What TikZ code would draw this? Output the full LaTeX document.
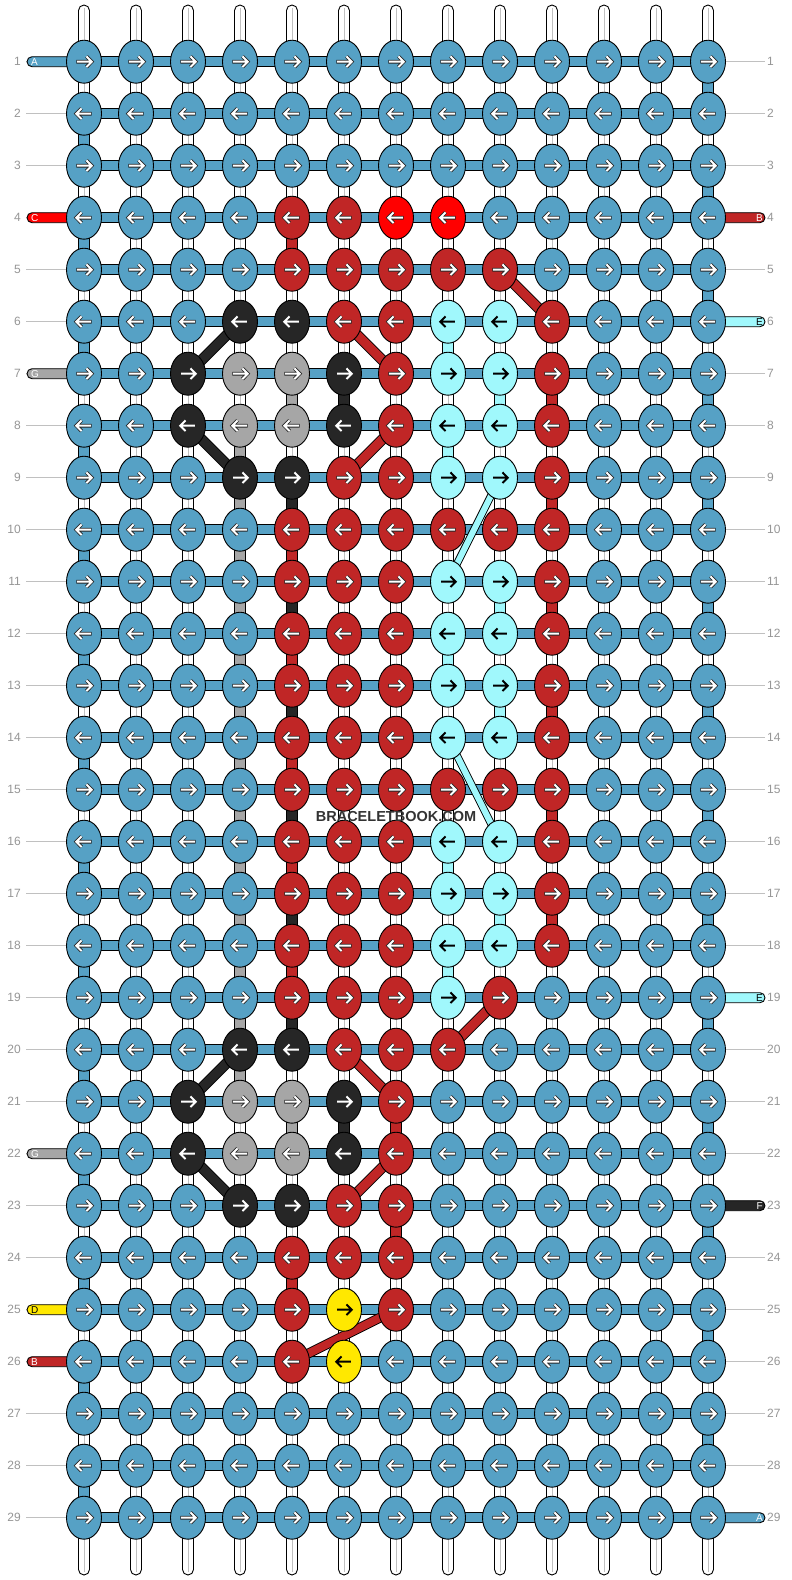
\documentclass[tikz,border=0pt]{standalone}
\usepackage{fontspec}
\setmainfont{Liberation Sans}
\usetikzlibrary{shapes.geometric}
\definecolor{kb}{RGB}{86,161,197}
\definecolor{kR}{RGB}{192,38,38}
\definecolor{kr}{RGB}{255,0,0}
\definecolor{kk}{RGB}{38,38,38}
\definecolor{kg}{RGB}{166,166,166}
\definecolor{kc}{RGB}{160,248,252}
\definecolor{ky}{RGB}{255,232,0}
% arrow and tab letter colours per thread
\colorlet{ab}{white}\colorlet{aR}{white}\colorlet{ar}{white}\colorlet{ak}{white}
\colorlet{ag}{white}\colorlet{ac}{black}\colorlet{ay}{black}
% arrow outline colours per thread
\colorlet{ob}{black!85}\colorlet{oR}{black!85}\colorlet{or}{black!85}\colorlet{ok}{black!85}
\colorlet{og}{black!85}\colorlet{oc}{kc}\colorlet{oy}{ky}
\definecolor{numgray}{RGB}{150,150,150}
\definecolor{rulegray}{RGB}{192,192,192}
\definecolor{markgray}{RGB}{51,51,51}
\tikzset{
  knot/.style={ellipse, draw=black, line width=0.9pt, minimum width=35pt,
    minimum height=43pt, inner sep=0pt},
  warp/.style={draw=black, fill=white, line width=0.9pt, rounded corners=5.5pt},
  band/.style={draw=black, line width=0.9pt},
  tab/.style={draw=black, line width=0.9pt, rounded corners=5pt},
  rownum/.style={text=numgray, font=\fontsize{12}{12}\selectfont, inner sep=0pt},
  tabtext/.style={font=\fontsize{10}{10}\selectfont, inner sep=0pt},
}

\begin{document}
\begin{tikzpicture}[x=1pt, y=-1pt]
\useasboundingbox (0,0) rectangle (792,1580);
\fill[white] (0,0) rectangle (792,1580);

% grid points
\foreach \r in {1,...,29}
  \foreach \c in {1,...,13}
    \coordinate (p\r-\c) at ({84+52*(\c-1)},{61.7+52*(\r-1)});

% warp strings
\foreach \c in {1,...,13}{
  \coordinate (top\c) at ({84+52*(\c-1)},5);
  \coordinate (bot\c) at ({84+52*(\c-1)},1575);
  \draw[warp] ([xshift=-5.5pt]top\c) rectangle ([xshift=5.5pt]bot\c);
  \draw[rulegray, line width=1pt] ([yshift=-3pt]top\c) -- ([yshift=3pt]bot\c);
}

% row numbers
\foreach \r in {1,...,29}{
  \draw[rulegray, line width=0.8pt] ([xshift=-58pt]p\r-1) -- (p\r-1);
  \draw[rulegray, line width=0.8pt] (p\r-13) -- ([xshift=57pt]p\r-13);
  \node[rownum, anchor=east] (ln\r) at ([xshift=-63pt]p\r-1) {\r};
  \node[rownum, anchor=west] (rn\r) at ([xshift=59pt]p\r-13) {\r};
}

% weft rows and turns
\foreach \r in {1,...,29}
  \draw[band, fill=kb] ([yshift=5.2pt]p\r-1) rectangle ([yshift=-5.2pt]p\r-13);
\foreach \r [evaluate=\r as \rr using int(\r+1)] in {2,4,...,28}
  \draw[band, fill=kb] ([xshift=-5.5pt]p\r-1) rectangle ([xshift=5.5pt]p\rr-1);
\foreach \r [evaluate=\r as \rr using int(\r+1)] in {1,3,...,27}
  \draw[band, fill=kb] ([xshift=-5.5pt]p\r-13) rectangle ([xshift=5.5pt]p\rr-13);

% carried threads
\foreach \c/\r/\k in {5/4/R, 5/10/R, 5/12/R, 5/14/R, 5/16/R, 5/18/R, 5/24/R,
    10/7/R, 10/9/R, 10/11/R, 10/13/R, 10/15/R, 10/17/R, 7/21/R, 7/23/R,
    5/9/k, 5/11/k, 5/13/k, 5/15/k, 5/17/k, 5/19/k, 6/7/k, 6/21/k,
    5/7/g, 5/21/g, 8/6/c, 8/8/c, 8/12/c, 8/16/c, 8/18/c,
    9/7/c, 9/11/c, 9/13/c, 9/17/c}{
  \pgfmathtruncatemacro\rr{\r+1}
  \draw[band, fill=k\k] ([xshift=-5.5pt]p\r-\c) rectangle ([xshift=5.5pt]p\rr-\c);
}
\foreach \r [evaluate=\r as \rr using int(\r+1)] in {8,...,20}
  \draw[band, fill=kg] ([xshift=-5.5pt]p\r-4) rectangle ([xshift=5.5pt]p\rr-4);

% diagonal jumps
\foreach \ra/\ca/\rb/\cb/\k/\w in {5/9/6/10/R/9, 6/4/7/3/k/9, 6/6/7/7/R/9,
    8/3/9/4/k/9, 8/7/9/6/R/9, 9/9/11/8/c/6, 14/8/16/9/c/6, 19/9/20/8/R/9,
    20/4/21/3/k/9, 20/6/21/7/R/9, 22/3/23/4/k/9, 22/7/23/6/R/9, 25/7/26/5/R/8}{
  \draw[line width={(\w+1.8)*1pt}, black] (p\ra-\ca) -- (p\rb-\cb);
  \draw[line width={\w*1pt}, k\k] (p\ra-\ca) -- (p\rb-\cb);
}

% thread ends
\foreach \r/\L/\k in {1/A/b, 4/C/r, 7/G/g, 22/G/g, 25/D/y, 26/B/R}{
  \draw[tab, fill=k\k] ([shift={(-57pt,5pt)}]p\r-1) rectangle ([shift={(-10pt,-5pt)}]p\r-1);
  \node[tabtext, text=a\k, anchor=west] (lt\r) at ([xshift=-53pt]p\r-1) {\L};
}
\foreach \r/\L/\k in {4/B/R, 6/E/c, 19/E/c, 23/F/k, 29/A/b}{
  \draw[tab, fill=k\k] ([shift={(10pt,5pt)}]p\r-13) rectangle ([shift={(57pt,-5pt)}]p\r-13);
  \node[tabtext, text=a\k, anchor=east] (rt\r) at ([xshift=55pt]p\r-13) {\L};
}

% knots
\foreach \r/\cols in {
    1/{b,b,b,b,b,b,b,b,b,b,b,b,b}, 2/{b,b,b,b,b,b,b,b,b,b,b,b,b},
    3/{b,b,b,b,b,b,b,b,b,b,b,b,b}, 4/{b,b,b,b,R,R,r,r,b,b,b,b,b},
    5/{b,b,b,b,R,R,R,R,R,b,b,b,b}, 6/{b,b,b,k,k,R,R,c,c,R,b,b,b},
    7/{b,b,k,g,g,k,R,c,c,R,b,b,b}, 8/{b,b,k,g,g,k,R,c,c,R,b,b,b},
    9/{b,b,b,k,k,R,R,c,c,R,b,b,b}, 10/{b,b,b,b,R,R,R,R,R,R,b,b,b},
    11/{b,b,b,b,R,R,R,c,c,R,b,b,b}, 12/{b,b,b,b,R,R,R,c,c,R,b,b,b},
    13/{b,b,b,b,R,R,R,c,c,R,b,b,b}, 14/{b,b,b,b,R,R,R,c,c,R,b,b,b},
    15/{b,b,b,b,R,R,R,R,R,R,b,b,b}, 16/{b,b,b,b,R,R,R,c,c,R,b,b,b},
    17/{b,b,b,b,R,R,R,c,c,R,b,b,b}, 18/{b,b,b,b,R,R,R,c,c,R,b,b,b},
    19/{b,b,b,b,R,R,R,c,R,b,b,b,b}, 20/{b,b,b,k,k,R,R,R,b,b,b,b,b},
    21/{b,b,k,g,g,k,R,b,b,b,b,b,b}, 22/{b,b,k,g,g,k,R,b,b,b,b,b,b},
    23/{b,b,b,k,k,R,R,b,b,b,b,b,b}, 24/{b,b,b,b,R,R,R,b,b,b,b,b,b},
    25/{b,b,b,b,R,y,R,b,b,b,b,b,b}, 26/{b,b,b,b,R,y,b,b,b,b,b,b,b},
    27/{b,b,b,b,b,b,b,b,b,b,b,b,b}, 28/{b,b,b,b,b,b,b,b,b,b,b,b,b},
    29/{b,b,b,b,b,b,b,b,b,b,b,b,b}}{
  \pgfmathtruncatemacro\dir{2*mod(\r,2)-1}
  \foreach \k [count=\c] in \cols {
    \node[knot, fill=k\k] (k\r-\c) at (p\r-\c) {};
    \begin{scope}[shift={(k\r-\c.center)}, xscale=\dir]
      \draw[line width=3.6pt, o\k] (-7.7,0) -- (7.2,0) (2.5,-5.3) -- (7.7,0) -- (2.5,5.3);
      \draw[line width=2pt, a\k] (-6.8,0) -- (7.2,0) (2.5,-5.3) -- (7.7,0) -- (2.5,5.3);
    \end{scope}
  }
}

\node[font=\bfseries\fontsize{14.5}{14.5}\selectfont, text=markgray] (mark) at (396,816) {BRACELETBOOK.COM};
\end{tikzpicture}
\end{document}
